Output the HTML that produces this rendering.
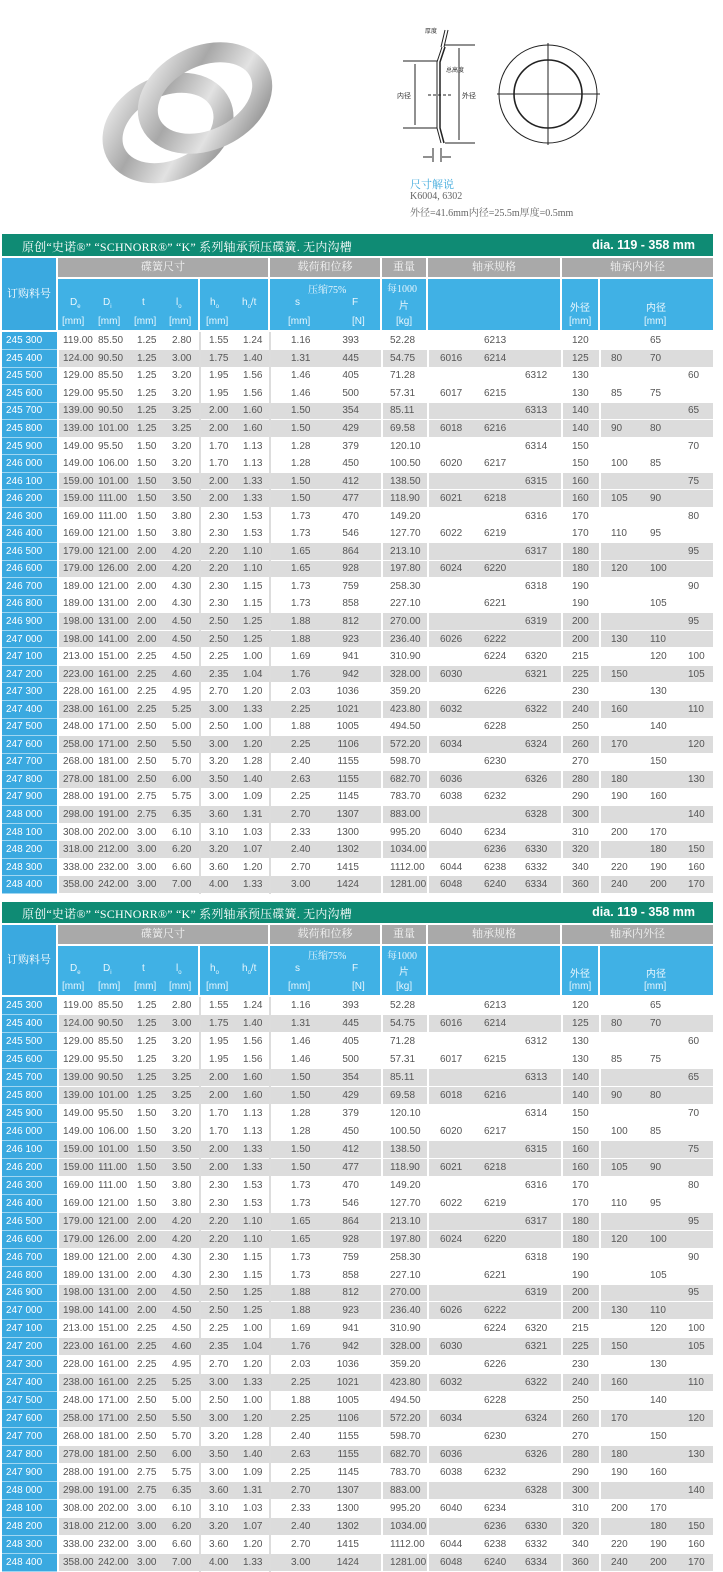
<!DOCTYPE html>
<html><head><meta charset="utf-8">
<style>
*{margin:0;padding:0;box-sizing:border-box}
body{width:723px;height:1570px;background:#fff;position:relative;overflow:hidden;font-family:"Liberation Sans","Noto Sans CJK SC",sans-serif}
.tb{position:absolute;left:0;width:723px}
.title{position:absolute;left:2px;width:711px;background:#0f8b74;color:#fff}
.title .t{position:absolute;left:20px;top:4px;font:12px "Liberation Serif","Noto Serif CJK SC",serif;letter-spacing:.2px}
.title .d{position:absolute;right:18px;top:4px;font-weight:bold;font-size:12.5px}
.gh{position:absolute;height:19px;background:#a9a9a9;color:#f4f4f4;font:11px "Liberation Serif","Noto Serif CJK SC",serif;text-align:center;line-height:19px}
.bh{position:absolute;background:#40b1e5;color:#e8f6fd;font-size:10px}
.bh span{position:absolute;white-space:nowrap}
.lab{position:absolute;left:2px;width:54px;background:#3aa9e0;color:#fff;font:11px "Liberation Serif","Noto Serif CJK SC",serif;text-align:center}
table{position:absolute;left:2px;border-collapse:collapse;table-layout:fixed;width:711px;font-size:10px;color:#555}
td{padding:0;white-space:nowrap;border-bottom:1px solid #fff;overflow:hidden}
tr.g td{background:#dcdcdc}
tr.w td{background:#fff}
tr td:nth-child(1){background:#3aa9e0!important;color:#fff;padding-left:4px;border-bottom:1px solid #9fd6f1}
td:nth-child(2){padding-left:4px;border-left:2px solid #fff}
td:nth-child(3){padding-left:3px}
td:nth-child(4){padding-left:4px}
td:nth-child(5){padding-left:5px}
td:nth-child(6){padding-left:8px;border-left:2px solid #ddd}
td:nth-child(7){padding-left:5px}
td:nth-child(8){padding-left:20px;border-left:2px solid #ddd}
td:nth-child(9){text-align:right;padding-right:22px}
td:nth-child(10){padding-left:7px;border-left:2px solid #fff}
td:nth-child(11){padding-left:11px;border-left:2px solid #fff}
td:nth-child(12){padding-left:6px}
td:nth-child(13){padding-left:5px}
td:nth-child(14){padding-left:9px;border-left:2px solid #fff}
td:nth-child(15){padding-left:10px;border-left:2px solid #fff}
td:nth-child(16){padding-left:5px}
td:nth-child(17){padding-left:6px}
.t1 tr{height:17.56px}
.t2 tr{height:17.95px}
sub{font-size:6px}
.cap{position:absolute;font:10px "Liberation Serif","Noto Serif CJK SC",serif;color:#666;white-space:nowrap}
</style></head><body>

<svg style="position:absolute;left:0;top:0" width="723" height="230">
<defs>
<linearGradient id="m" x1="0" y1="0" x2="1" y2="1">
<stop offset="0" stop-color="#eeeeee"/><stop offset=".35" stop-color="#a8a8a8"/><stop offset=".65" stop-color="#e2e2e2"/><stop offset="1" stop-color="#888"/></linearGradient>
</defs>
<ellipse cx="168" cy="128" rx="58" ry="42" transform="rotate(-25 168 128)" fill="none" stroke="url(#m)" stroke-width="20"/>
<ellipse cx="205" cy="98" rx="60" ry="42" transform="rotate(-25 205 98)" fill="none" stroke="url(#m)" stroke-width="20"/>
<g stroke="#222" fill="none" stroke-width="1">
<path d="M442 47 L437 62 L437 128 L441 143"/>
<path d="M445 47 L440 62 L440 128 L444 143" stroke-width="1.5"/>
<line x1="445" y1="30" x2="441" y2="47"/><line x1="448" y1="30" x2="444" y2="47"/>
<line x1="403" y1="61" x2="437" y2="61"/><line x1="403" y1="128" x2="437" y2="128"/>
<line x1="415" y1="64" x2="415" y2="125"/>
<line x1="445" y1="45" x2="475" y2="45"/><line x1="445" y1="143" x2="475" y2="143"/>
<line x1="459" y1="48" x2="459" y2="140"/>
<line x1="428" y1="95" x2="452" y2="95" stroke-dasharray="3 2"/>
<line x1="433" y1="148" x2="433" y2="162"/><line x1="441" y1="148" x2="441" y2="162"/>
<line x1="423" y1="157" x2="432" y2="157"/><line x1="442" y1="157" x2="451" y2="157"/>
<circle cx="548" cy="94" r="49"/><circle cx="548" cy="94" r="34" stroke-width="1.6"/>
<line x1="497" y1="94" x2="600" y2="94"/><line x1="548" y1="43" x2="548" y2="145"/>
</g>
<text x="425" y="33" font-size="6" fill="#333">厚度</text>
<text x="446" y="72" font-size="6" fill="#333">总高度</text>
<text x="397" y="98" font-size="7" fill="#333">内径</text>
<text x="462" y="98" font-size="7" fill="#333">外径</text>
</svg>
<div class="cap" style="left:410px;top:176px;color:#3fa9dc;font-size:11px">尺寸解说</div>
<div class="cap" style="left:410px;top:191px">K6004, 6302</div>
<div class="cap" style="left:410px;top:204px">外径=41.6mm内径=25.5m厚度=0.5mm</div>

<div class="tb" style="top:234px">
<div class="title" style="top:0;height:22px"><span class="t">原创“史诺®” “SCHNORR®” “K” 系列轴承预压碟簧. 无内沟槽</span><span class="d">dia. 119 - 358 mm</span></div>
<div class="lab" style="top:24px;height:72px;line-height:72px">订购料号</div>
<div class="gh" style="top:24px;left:58px;width:210px">碟簧尺寸</div>
<div class="gh" style="top:24px;left:270px;width:110px">载荷和位移</div>
<div class="gh" style="top:24px;left:382px;width:44px">重量</div>
<div class="gh" style="top:24px;left:428px;width:132px">轴承规格</div>
<div class="gh" style="top:24px;left:562px;width:151px">轴承内外径</div>
<div class="bh" style="top:45px;left:58px;width:140px;height:51px"><span style="left:12px;top:18px">D<sub>e</sub></span><span style="left:45px;top:18px">D<sub>i</sub></span><span style="left:84px;top:18px">t</span><span style="left:118px;top:18px">l<sub>o</sub></span><span style="left:4px;top:37px">[mm]</span><span style="left:40px;top:37px">[mm]</span><span style="left:76px;top:37px">[mm]</span><span style="left:111px;top:37px">[mm]</span></div>
<div class="bh" style="top:45px;left:200px;width:68px;height:51px"><span style="left:10px;top:18px">h<sub>o</sub></span><span style="left:42px;top:18px">h<sub>o</sub>/t</span><span style="left:6px;top:37px">[mm]</span></div>
<div class="bh" style="top:45px;left:270px;width:110px;height:51px"><span style="left:38px;top:2px;font-family:'Liberation Serif','Noto Serif CJK SC',serif">压缩75%</span><span style="left:25px;top:18px">s</span><span style="left:82px;top:18px">F</span><span style="left:18px;top:37px">[mm]</span><span style="left:82px;top:37px">[N]</span></div>
<div class="bh" style="top:45px;left:382px;width:44px;height:51px"><span style="left:5px;top:1px;font-family:'Liberation Serif','Noto Serif CJK SC',serif">每1000</span><span style="left:17px;top:18px">片</span><span style="left:14px;top:37px">[kg]</span></div>
<div class="bh" style="top:45px;left:428px;width:132px;height:51px"></div>
<div class="bh" style="top:45px;left:562px;width:36px;height:51px"><span style="left:8px;top:20px">外径</span><span style="left:7px;top:37px">[mm]</span></div>
<div class="bh" style="top:45px;left:600px;width:113px;height:51px"><span style="left:46px;top:20px">内径</span><span style="left:44px;top:37px">[mm]</span></div>
<table class="t1" style="top:98px">
<colgroup><col style="width:56px"><col style="width:37px"><col style="width:38px"><col style="width:34px"><col style="width:33px"><col style="width:38px"><col style="width:32px"><col style="width:55px"><col style="width:57px"><col style="width:46px"><col style="width:50px"><col style="width:42px"><col style="width:42px"><col style="width:38px"><col style="width:45px"><col style="width:37px"><col style="width:31px"></colgroup>
<tr class="w"><td>245 300<td>119.00<td>85.50<td>1.25<td>2.80<td>1.55<td>1.24<td>1.16<td>393<td>52.28<td><td>6213<td><td>120<td><td>65<td></tr>
<tr class="g"><td>245 400<td>124.00<td>90.50<td>1.25<td>3.00<td>1.75<td>1.40<td>1.31<td>445<td>54.75<td>6016<td>6214<td><td>125<td>80<td>70<td></tr>
<tr class="w"><td>245 500<td>129.00<td>85.50<td>1.25<td>3.20<td>1.95<td>1.56<td>1.46<td>405<td>71.28<td><td><td>6312<td>130<td><td><td>60</tr>
<tr class="w"><td>245 600<td>129.00<td>95.50<td>1.25<td>3.20<td>1.95<td>1.56<td>1.46<td>500<td>57.31<td>6017<td>6215<td><td>130<td>85<td>75<td></tr>
<tr class="g"><td>245 700<td>139.00<td>90.50<td>1.25<td>3.25<td>2.00<td>1.60<td>1.50<td>354<td>85.11<td><td><td>6313<td>140<td><td><td>65</tr>
<tr class="g"><td>245 800<td>139.00<td>101.00<td>1.25<td>3.25<td>2.00<td>1.60<td>1.50<td>429<td>69.58<td>6018<td>6216<td><td>140<td>90<td>80<td></tr>
<tr class="w"><td>245 900<td>149.00<td>95.50<td>1.50<td>3.20<td>1.70<td>1.13<td>1.28<td>379<td>120.10<td><td><td>6314<td>150<td><td><td>70</tr>
<tr class="w"><td>246 000<td>149.00<td>106.00<td>1.50<td>3.20<td>1.70<td>1.13<td>1.28<td>450<td>100.50<td>6020<td>6217<td><td>150<td>100<td>85<td></tr>
<tr class="g"><td>246 100<td>159.00<td>101.00<td>1.50<td>3.50<td>2.00<td>1.33<td>1.50<td>412<td>138.50<td><td><td>6315<td>160<td><td><td>75</tr>
<tr class="g"><td>246 200<td>159.00<td>111.00<td>1.50<td>3.50<td>2.00<td>1.33<td>1.50<td>477<td>118.90<td>6021<td>6218<td><td>160<td>105<td>90<td></tr>
<tr class="w"><td>246 300<td>169.00<td>111.00<td>1.50<td>3.80<td>2.30<td>1.53<td>1.73<td>470<td>149.20<td><td><td>6316<td>170<td><td><td>80</tr>
<tr class="w"><td>246 400<td>169.00<td>121.00<td>1.50<td>3.80<td>2.30<td>1.53<td>1.73<td>546<td>127.70<td>6022<td>6219<td><td>170<td>110<td>95<td></tr>
<tr class="g"><td>246 500<td>179.00<td>121.00<td>2.00<td>4.20<td>2.20<td>1.10<td>1.65<td>864<td>213.10<td><td><td>6317<td>180<td><td><td>95</tr>
<tr class="g"><td>246 600<td>179.00<td>126.00<td>2.00<td>4.20<td>2.20<td>1.10<td>1.65<td>928<td>197.80<td>6024<td>6220<td><td>180<td>120<td>100<td></tr>
<tr class="w"><td>246 700<td>189.00<td>121.00<td>2.00<td>4.30<td>2.30<td>1.15<td>1.73<td>759<td>258.30<td><td><td>6318<td>190<td><td><td>90</tr>
<tr class="w"><td>246 800<td>189.00<td>131.00<td>2.00<td>4.30<td>2.30<td>1.15<td>1.73<td>858<td>227.10<td><td>6221<td><td>190<td><td>105<td></tr>
<tr class="g"><td>246 900<td>198.00<td>131.00<td>2.00<td>4.50<td>2.50<td>1.25<td>1.88<td>812<td>270.00<td><td><td>6319<td>200<td><td><td>95</tr>
<tr class="g"><td>247 000<td>198.00<td>141.00<td>2.00<td>4.50<td>2.50<td>1.25<td>1.88<td>923<td>236.40<td>6026<td>6222<td><td>200<td>130<td>110<td></tr>
<tr class="w"><td>247 100<td>213.00<td>151.00<td>2.25<td>4.50<td>2.25<td>1.00<td>1.69<td>941<td>310.90<td><td>6224<td>6320<td>215<td><td>120<td>100</tr>
<tr class="g"><td>247 200<td>223.00<td>161.00<td>2.25<td>4.60<td>2.35<td>1.04<td>1.76<td>942<td>328.00<td>6030<td><td>6321<td>225<td>150<td><td>105</tr>
<tr class="w"><td>247 300<td>228.00<td>161.00<td>2.25<td>4.95<td>2.70<td>1.20<td>2.03<td>1036<td>359.20<td><td>6226<td><td>230<td><td>130<td></tr>
<tr class="g"><td>247 400<td>238.00<td>161.00<td>2.25<td>5.25<td>3.00<td>1.33<td>2.25<td>1021<td>423.80<td>6032<td><td>6322<td>240<td>160<td><td>110</tr>
<tr class="w"><td>247 500<td>248.00<td>171.00<td>2.50<td>5.00<td>2.50<td>1.00<td>1.88<td>1005<td>494.50<td><td>6228<td><td>250<td><td>140<td></tr>
<tr class="g"><td>247 600<td>258.00<td>171.00<td>2.50<td>5.50<td>3.00<td>1.20<td>2.25<td>1106<td>572.20<td>6034<td><td>6324<td>260<td>170<td><td>120</tr>
<tr class="w"><td>247 700<td>268.00<td>181.00<td>2.50<td>5.70<td>3.20<td>1.28<td>2.40<td>1155<td>598.70<td><td>6230<td><td>270<td><td>150<td></tr>
<tr class="g"><td>247 800<td>278.00<td>181.00<td>2.50<td>6.00<td>3.50<td>1.40<td>2.63<td>1155<td>682.70<td>6036<td><td>6326<td>280<td>180<td><td>130</tr>
<tr class="w"><td>247 900<td>288.00<td>191.00<td>2.75<td>5.75<td>3.00<td>1.09<td>2.25<td>1145<td>783.70<td>6038<td>6232<td><td>290<td>190<td>160<td></tr>
<tr class="g"><td>248 000<td>298.00<td>191.00<td>2.75<td>6.35<td>3.60<td>1.31<td>2.70<td>1307<td>883.00<td><td><td>6328<td>300<td><td><td>140</tr>
<tr class="w"><td>248 100<td>308.00<td>202.00<td>3.00<td>6.10<td>3.10<td>1.03<td>2.33<td>1300<td>995.20<td>6040<td>6234<td><td>310<td>200<td>170<td></tr>
<tr class="g"><td>248 200<td>318.00<td>212.00<td>3.00<td>6.20<td>3.20<td>1.07<td>2.40<td>1302<td>1034.00<td><td>6236<td>6330<td>320<td><td>180<td>150</tr>
<tr class="w"><td>248 300<td>338.00<td>232.00<td>3.00<td>6.60<td>3.60<td>1.20<td>2.70<td>1415<td>1112.00<td>6044<td>6238<td>6332<td>340<td>220<td>190<td>160</tr>
<tr class="g"><td>248 400<td>358.00<td>242.00<td>3.00<td>7.00<td>4.00<td>1.33<td>3.00<td>1424<td>1281.00<td>6048<td>6240<td>6334<td>360<td>240<td>200<td>170</tr>
</table>
</div>

<div class="tb" style="top:902px">
<div class="title" style="top:0;height:21px"><span class="t" style="top:3px">原创“史诺®” “SCHNORR®” “K” 系列轴承预压碟簧. 无内沟槽</span><span class="d" style="top:3px">dia. 119 - 358 mm</span></div>
<div class="lab" style="top:23px;height:70px;line-height:70px">订购料号</div>
<div class="gh" style="top:23px;left:58px;width:210px">碟簧尺寸</div>
<div class="gh" style="top:23px;left:270px;width:110px">载荷和位移</div>
<div class="gh" style="top:23px;left:382px;width:44px">重量</div>
<div class="gh" style="top:23px;left:428px;width:132px">轴承规格</div>
<div class="gh" style="top:23px;left:562px;width:151px">轴承内外径</div>
<div class="bh" style="top:44px;left:58px;width:140px;height:49px"><span style="left:12px;top:17px">D<sub>e</sub></span><span style="left:45px;top:17px">D<sub>i</sub></span><span style="left:84px;top:17px">t</span><span style="left:118px;top:17px">l<sub>o</sub></span><span style="left:4px;top:35px">[mm]</span><span style="left:40px;top:35px">[mm]</span><span style="left:76px;top:35px">[mm]</span><span style="left:111px;top:35px">[mm]</span></div>
<div class="bh" style="top:44px;left:200px;width:68px;height:49px"><span style="left:10px;top:17px">h<sub>o</sub></span><span style="left:42px;top:17px">h<sub>o</sub>/t</span><span style="left:6px;top:35px">[mm]</span></div>
<div class="bh" style="top:44px;left:270px;width:110px;height:49px"><span style="left:38px;top:1px;font-family:'Liberation Serif','Noto Serif CJK SC',serif">压缩75%</span><span style="left:25px;top:17px">s</span><span style="left:82px;top:17px">F</span><span style="left:18px;top:35px">[mm]</span><span style="left:82px;top:35px">[N]</span></div>
<div class="bh" style="top:44px;left:382px;width:44px;height:49px"><span style="left:5px;top:1px;font-family:'Liberation Serif','Noto Serif CJK SC',serif">每1000</span><span style="left:17px;top:17px">片</span><span style="left:14px;top:35px">[kg]</span></div>
<div class="bh" style="top:44px;left:428px;width:132px;height:49px"></div>
<div class="bh" style="top:44px;left:562px;width:36px;height:49px"><span style="left:8px;top:19px">外径</span><span style="left:7px;top:35px">[mm]</span></div>
<div class="bh" style="top:44px;left:600px;width:113px;height:49px"><span style="left:46px;top:19px">内径</span><span style="left:44px;top:35px">[mm]</span></div>
<table class="t2" style="top:95px">
<colgroup><col style="width:56px"><col style="width:37px"><col style="width:38px"><col style="width:34px"><col style="width:33px"><col style="width:38px"><col style="width:32px"><col style="width:55px"><col style="width:57px"><col style="width:46px"><col style="width:50px"><col style="width:42px"><col style="width:42px"><col style="width:38px"><col style="width:45px"><col style="width:37px"><col style="width:31px"></colgroup>
<tr class="w"><td>245 300<td>119.00<td>85.50<td>1.25<td>2.80<td>1.55<td>1.24<td>1.16<td>393<td>52.28<td><td>6213<td><td>120<td><td>65<td></tr>
<tr class="g"><td>245 400<td>124.00<td>90.50<td>1.25<td>3.00<td>1.75<td>1.40<td>1.31<td>445<td>54.75<td>6016<td>6214<td><td>125<td>80<td>70<td></tr>
<tr class="w"><td>245 500<td>129.00<td>85.50<td>1.25<td>3.20<td>1.95<td>1.56<td>1.46<td>405<td>71.28<td><td><td>6312<td>130<td><td><td>60</tr>
<tr class="w"><td>245 600<td>129.00<td>95.50<td>1.25<td>3.20<td>1.95<td>1.56<td>1.46<td>500<td>57.31<td>6017<td>6215<td><td>130<td>85<td>75<td></tr>
<tr class="g"><td>245 700<td>139.00<td>90.50<td>1.25<td>3.25<td>2.00<td>1.60<td>1.50<td>354<td>85.11<td><td><td>6313<td>140<td><td><td>65</tr>
<tr class="g"><td>245 800<td>139.00<td>101.00<td>1.25<td>3.25<td>2.00<td>1.60<td>1.50<td>429<td>69.58<td>6018<td>6216<td><td>140<td>90<td>80<td></tr>
<tr class="w"><td>245 900<td>149.00<td>95.50<td>1.50<td>3.20<td>1.70<td>1.13<td>1.28<td>379<td>120.10<td><td><td>6314<td>150<td><td><td>70</tr>
<tr class="w"><td>246 000<td>149.00<td>106.00<td>1.50<td>3.20<td>1.70<td>1.13<td>1.28<td>450<td>100.50<td>6020<td>6217<td><td>150<td>100<td>85<td></tr>
<tr class="g"><td>246 100<td>159.00<td>101.00<td>1.50<td>3.50<td>2.00<td>1.33<td>1.50<td>412<td>138.50<td><td><td>6315<td>160<td><td><td>75</tr>
<tr class="g"><td>246 200<td>159.00<td>111.00<td>1.50<td>3.50<td>2.00<td>1.33<td>1.50<td>477<td>118.90<td>6021<td>6218<td><td>160<td>105<td>90<td></tr>
<tr class="w"><td>246 300<td>169.00<td>111.00<td>1.50<td>3.80<td>2.30<td>1.53<td>1.73<td>470<td>149.20<td><td><td>6316<td>170<td><td><td>80</tr>
<tr class="w"><td>246 400<td>169.00<td>121.00<td>1.50<td>3.80<td>2.30<td>1.53<td>1.73<td>546<td>127.70<td>6022<td>6219<td><td>170<td>110<td>95<td></tr>
<tr class="g"><td>246 500<td>179.00<td>121.00<td>2.00<td>4.20<td>2.20<td>1.10<td>1.65<td>864<td>213.10<td><td><td>6317<td>180<td><td><td>95</tr>
<tr class="g"><td>246 600<td>179.00<td>126.00<td>2.00<td>4.20<td>2.20<td>1.10<td>1.65<td>928<td>197.80<td>6024<td>6220<td><td>180<td>120<td>100<td></tr>
<tr class="w"><td>246 700<td>189.00<td>121.00<td>2.00<td>4.30<td>2.30<td>1.15<td>1.73<td>759<td>258.30<td><td><td>6318<td>190<td><td><td>90</tr>
<tr class="w"><td>246 800<td>189.00<td>131.00<td>2.00<td>4.30<td>2.30<td>1.15<td>1.73<td>858<td>227.10<td><td>6221<td><td>190<td><td>105<td></tr>
<tr class="g"><td>246 900<td>198.00<td>131.00<td>2.00<td>4.50<td>2.50<td>1.25<td>1.88<td>812<td>270.00<td><td><td>6319<td>200<td><td><td>95</tr>
<tr class="g"><td>247 000<td>198.00<td>141.00<td>2.00<td>4.50<td>2.50<td>1.25<td>1.88<td>923<td>236.40<td>6026<td>6222<td><td>200<td>130<td>110<td></tr>
<tr class="w"><td>247 100<td>213.00<td>151.00<td>2.25<td>4.50<td>2.25<td>1.00<td>1.69<td>941<td>310.90<td><td>6224<td>6320<td>215<td><td>120<td>100</tr>
<tr class="g"><td>247 200<td>223.00<td>161.00<td>2.25<td>4.60<td>2.35<td>1.04<td>1.76<td>942<td>328.00<td>6030<td><td>6321<td>225<td>150<td><td>105</tr>
<tr class="w"><td>247 300<td>228.00<td>161.00<td>2.25<td>4.95<td>2.70<td>1.20<td>2.03<td>1036<td>359.20<td><td>6226<td><td>230<td><td>130<td></tr>
<tr class="g"><td>247 400<td>238.00<td>161.00<td>2.25<td>5.25<td>3.00<td>1.33<td>2.25<td>1021<td>423.80<td>6032<td><td>6322<td>240<td>160<td><td>110</tr>
<tr class="w"><td>247 500<td>248.00<td>171.00<td>2.50<td>5.00<td>2.50<td>1.00<td>1.88<td>1005<td>494.50<td><td>6228<td><td>250<td><td>140<td></tr>
<tr class="g"><td>247 600<td>258.00<td>171.00<td>2.50<td>5.50<td>3.00<td>1.20<td>2.25<td>1106<td>572.20<td>6034<td><td>6324<td>260<td>170<td><td>120</tr>
<tr class="w"><td>247 700<td>268.00<td>181.00<td>2.50<td>5.70<td>3.20<td>1.28<td>2.40<td>1155<td>598.70<td><td>6230<td><td>270<td><td>150<td></tr>
<tr class="g"><td>247 800<td>278.00<td>181.00<td>2.50<td>6.00<td>3.50<td>1.40<td>2.63<td>1155<td>682.70<td>6036<td><td>6326<td>280<td>180<td><td>130</tr>
<tr class="w"><td>247 900<td>288.00<td>191.00<td>2.75<td>5.75<td>3.00<td>1.09<td>2.25<td>1145<td>783.70<td>6038<td>6232<td><td>290<td>190<td>160<td></tr>
<tr class="g"><td>248 000<td>298.00<td>191.00<td>2.75<td>6.35<td>3.60<td>1.31<td>2.70<td>1307<td>883.00<td><td><td>6328<td>300<td><td><td>140</tr>
<tr class="w"><td>248 100<td>308.00<td>202.00<td>3.00<td>6.10<td>3.10<td>1.03<td>2.33<td>1300<td>995.20<td>6040<td>6234<td><td>310<td>200<td>170<td></tr>
<tr class="g"><td>248 200<td>318.00<td>212.00<td>3.00<td>6.20<td>3.20<td>1.07<td>2.40<td>1302<td>1034.00<td><td>6236<td>6330<td>320<td><td>180<td>150</tr>
<tr class="w"><td>248 300<td>338.00<td>232.00<td>3.00<td>6.60<td>3.60<td>1.20<td>2.70<td>1415<td>1112.00<td>6044<td>6238<td>6332<td>340<td>220<td>190<td>160</tr>
<tr class="g"><td>248 400<td>358.00<td>242.00<td>3.00<td>7.00<td>4.00<td>1.33<td>3.00<td>1424<td>1281.00<td>6048<td>6240<td>6334<td>360<td>240<td>200<td>170</tr>
</table>
</div>
</body></html>
